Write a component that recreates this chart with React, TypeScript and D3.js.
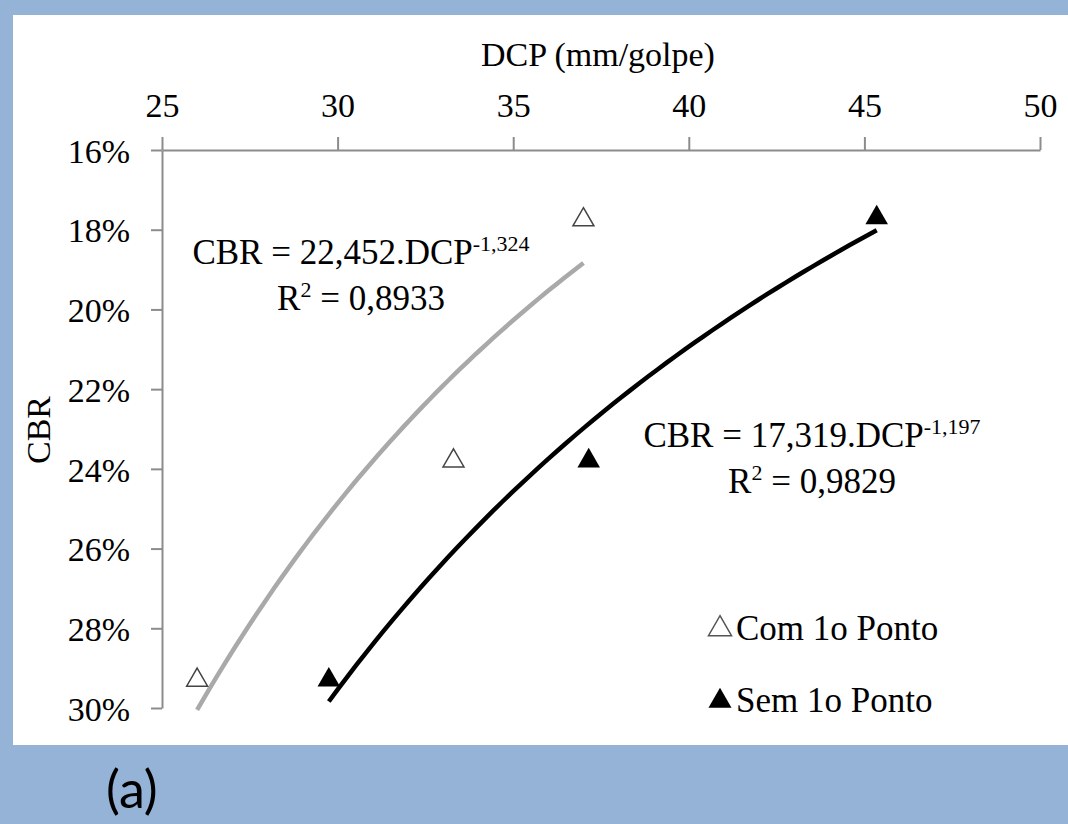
import React, {useEffect, useRef} from "react";
import * as d3 from "d3";

// values
const comDcp = [26.0, 33.3, 37.0];
const comCbr = [0.293, 0.238, 0.1775];
const semDcp = [29.75, 37.15, 45.35];
const semCbr = [0.293, 0.238, 0.177];

// fitted power curves shown on the chart: CBR = a.DCP^b
const comFit = {a: 22.452, b: -1.324, r2: "0,8933"};
const semFit = {a: 17.319, b: -1.197, r2: "0,9829"};

const xTicks = [25, 30, 35, 40, 45, 50];
const yTicks = [0.16, 0.18, 0.2, 0.22, 0.24, 0.26, 0.28, 0.3];

const W = 1068;
const H = 824;
const serif = "Liberation Serif, Times New Roman, serif";

const App: React.FC = () => {
    const svgRef = useRef<SVGSVGElement | null>(null);

    useEffect(() => {
        if (!svgRef.current) return;
        const svg = d3.select(svgRef.current);
        svg.selectAll("*").remove();

        const x = d3.scaleLinear().domain([25, 50]).range([162, 1040]);
        const y = d3.scaleLinear().domain([0.16, 0.3]).range([150, 708]);

        // background
        svg.append("rect").attr("width", W).attr("height", H).attr("fill", "#95b3d7");
        svg.append("rect").attr("x", 13).attr("y", 15).attr("width", W - 13).attr("height", 730).attr("fill", "#fff");

        // axes
        const xAxis = svg.append("g")
            .attr("transform", `translate(0,${y(0.16)})`)
            .call(d3.axisTop(x).tickValues(xTicks).tickSizeInner(13).tickSizeOuter(0).tickPadding(20).tickFormat(d3.format("d")));
        const yAxis = svg.append("g")
            .attr("transform", `translate(${x(25)},0)`)
            .call(d3.axisLeft(y).tickValues(yTicks).tickSizeInner(11).tickSizeOuter(0).tickPadding(21).tickFormat(d3.format(".0%")));

        [xAxis, yAxis].forEach((g) => {
            g.attr("font-family", serif).attr("font-size", 34);
            g.selectAll("path").attr("stroke", "#8c8c8c").attr("stroke-width", 2);
            g.selectAll("line").attr("stroke", "#8c8c8c").attr("stroke-width", 2);
            g.selectAll("text")
                .attr("font-family", serif)
                .attr("font-size", 34)
                .attr("fill", "#000");
        });
        xAxis.selectAll("text").attr("dy", "0");
        yAxis.selectAll("text").attr("dy", "0.36em");

        svg.append("text")
            .attr("x", 598).attr("y", 66)
            .attr("text-anchor", "middle")
            .attr("font-family", serif).attr("font-size", 34).attr("fill", "#000")
            .text("DCP (mm/golpe)");

        svg.append("text")
            .attr("transform", "translate(50,430) rotate(-90)")
            .attr("text-anchor", "middle")
            .attr("font-family", serif).attr("font-size", 34).attr("fill", "#000")
            .text("CBR");

        // trend lines
        const curve = (fit: {a: number, b: number}, dcp: number[]) => {
            const lo = d3.min(dcp) || 0;
            const hi = d3.max(dcp) || 0;
            const pts = d3.range(0, 61).map((i) => lo + (hi - lo) * i / 60);
            return d3.line<number>()
                .x((d) => x(d))
                .y((d) => y(fit.a * Math.pow(d, fit.b)))(pts);
        };

        svg.append("path").attr("d", curve(comFit, comDcp))
            .attr("fill", "none").attr("stroke", "#a9a9a9").attr("stroke-width", 4.5);
        svg.append("path").attr("d", curve(semFit, semDcp))
            .attr("fill", "none").attr("stroke", "#000").attr("stroke-width", 4.5);

        // markers
        const tri = d3.symbol().type(d3.symbolTriangle).size(190);
        svg.append("g").selectAll("path")
            .data(comDcp.map((d, i) => [d, comCbr[i]]))
            .join("path")
            .attr("d", tri)
            .attr("transform", (d) => `translate(${x(d[0])},${y(d[1])})`)
            .attr("fill", "#fff").attr("stroke", "#444").attr("stroke-width", 1.5);
        svg.append("g").selectAll("path")
            .data(semDcp.map((d, i) => [d, semCbr[i]]))
            .join("path")
            .attr("d", d3.symbol().type(d3.symbolTriangle).size(220))
            .attr("transform", (d) => `translate(${x(d[0])},${y(d[1])})`)
            .attr("fill", "#000");

        // equations
        const eq = (cx: number, by: number, a: string, b: string, r2: string) => {
            const t = svg.append("text")
                .attr("x", cx).attr("y", by)
                .attr("text-anchor", "middle")
                .attr("font-family", serif).attr("font-size", 35).attr("fill", "#000");
            t.append("tspan").text(`CBR = ${a}.DCP`);
            t.append("tspan").attr("font-size", 22).attr("dy", -13).text(b);
            const r = svg.append("text")
                .attr("x", cx).attr("y", by + 46)
                .attr("text-anchor", "middle")
                .attr("font-family", serif).attr("font-size", 35).attr("fill", "#000");
            r.append("tspan").text("R");
            r.append("tspan").attr("font-size", 22).attr("dy", -13).text("2");
            r.append("tspan").attr("dy", 13).text(` = ${r2}`);
        };
        eq(361, 264, "22,452", "-1,324", comFit.r2);
        eq(812, 447, "17,319", "-1,197", semFit.r2);

        // legend
        const legend = [
            {label: "Com 1o Ponto", fill: "#fff", stroke: "#555", yy: 640},
            {label: "Sem 1o Ponto", fill: "#000", stroke: "none", yy: 712},
        ];
        const lg = svg.append("g").selectAll("g").data(legend).join("g")
            .attr("transform", (d) => `translate(720,${d.yy})`);
        lg.append("path")
            .attr("d", d3.symbol().type(d3.symbolTriangle).size(230))
            .attr("transform", "translate(0,-11)")
            .attr("fill", (d) => d.fill).attr("stroke", (d) => d.stroke).attr("stroke-width", 1.5);
        lg.append("text")
            .attr("x", 16).attr("y", 0)
            .attr("font-family", serif).attr("font-size", 35).attr("fill", "#000")
            .text((d) => d.label);

        svg.append("text")
            .attr("x", 106).attr("y", 808)
            .attr("font-family", "Lato, Open Sans, sans-serif").attr("font-size", 52).attr("fill", "#000")
            .text("(a)");
    }, []);

    return (
        <div>
            <style>{`body{margin:0}`}</style>
            <svg ref={svgRef} width={W} height={H} style={{display: "block"}}></svg>
        </div>
    );
};

export default App;
